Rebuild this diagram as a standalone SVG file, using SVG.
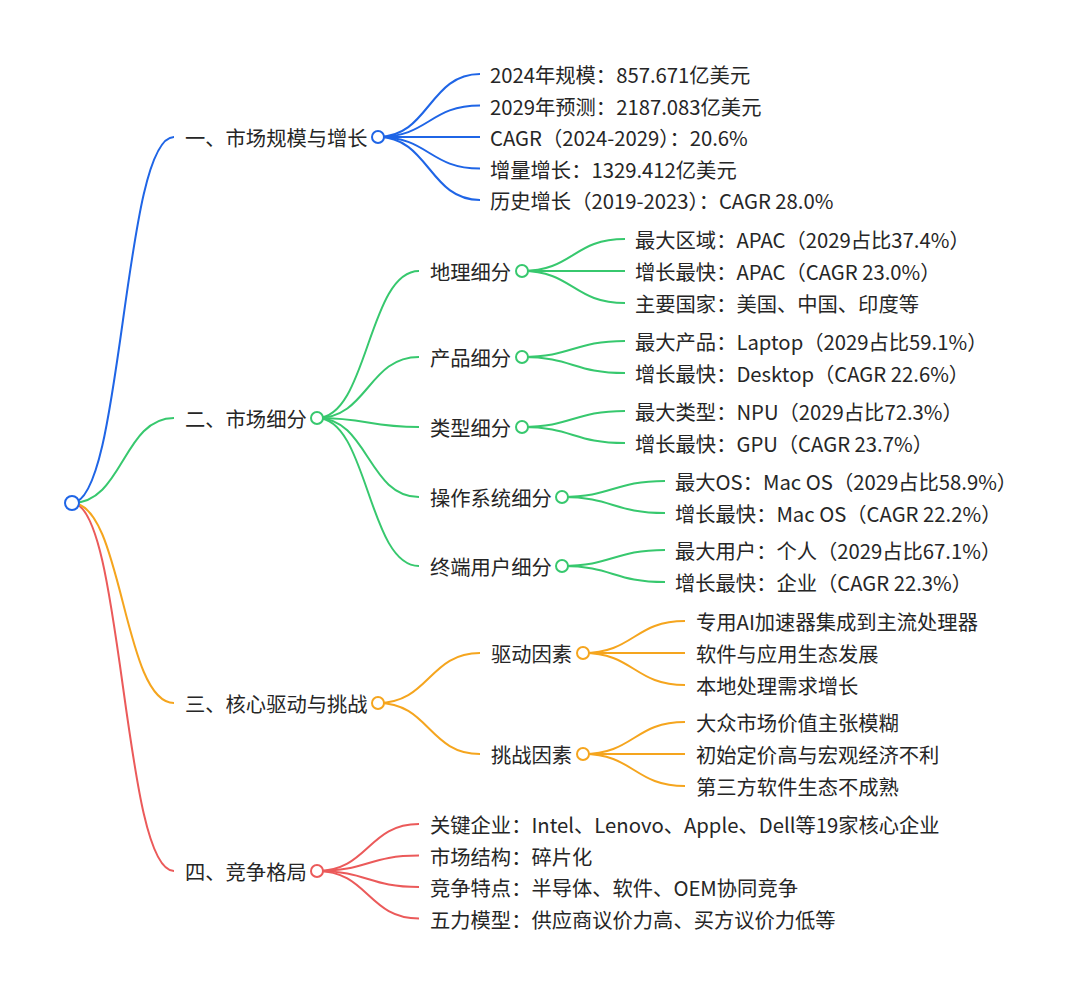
<svg xmlns="http://www.w3.org/2000/svg" width="1080" height="992" viewBox="0 0 1080 992">
<style>
text{font-family:"Noto Sans CJK SC","Noto Sans",sans-serif;font-size:20.3px;fill:#262626;dominant-baseline:central}
path{fill:none;stroke-width:2}
circle{fill:#fff;stroke-width:2}
.b{stroke:#1f65e6}.g{stroke:#37c86e}.o{stroke:#f5a51e}.r{stroke:#eb5a5a}
</style>
<rect width="1080" height="992" fill="#fff"/>
<g id="connectors">
<path class="b" d="M72,503 C123,503 123,137 174,137"/>
<path class="g" d="M72,503 C123,503 123,418 174,418"/>
<path class="r" d="M72,503 C123,503 123,871 174,871"/>
<path class="o" d="M72,503 C123,503 123,703 174,703"/>
<path class="b" d="M378,137 C429,137 429,74 480,74"/>
<path class="b" d="M378,137 C429,137 429,105.5 480,105.5"/>
<path class="b" d="M378,137 C429,137 429,137 480,137"/>
<path class="b" d="M378,137 C429,137 429,168.5 480,168.5"/>
<path class="b" d="M378,137 C429,137 429,200 480,200"/>
<path class="g" d="M317,418 C368,418 368,271 419,271"/>
<path class="g" d="M317,418 C368,418 368,357 419,357"/>
<path class="g" d="M317,418 C368,418 368,427 419,427"/>
<path class="g" d="M317,418 C368,418 368,497 419,497"/>
<path class="g" d="M317,418 C368,418 368,566 419,566"/>
<path class="g" d="M522,271 C573,271 573,239 625,239"/>
<path class="g" d="M522,271 C573,271 573,271 625,271"/>
<path class="g" d="M522,271 C573,271 573,303 625,303"/>
<path class="g" d="M522,357 C573,357 573,341 625,341"/>
<path class="g" d="M522,357 C573,357 573,373 625,373"/>
<path class="g" d="M522,427 C573,427 573,411 625,411"/>
<path class="g" d="M522,427 C573,427 573,443 625,443"/>
<path class="g" d="M562,497 C613,497 613,481 665,481"/>
<path class="g" d="M562,497 C613,497 613,513 665,513"/>
<path class="g" d="M562,566 C613,566 613,550 665,550"/>
<path class="g" d="M562,566 C613,566 613,582 665,582"/>
<path class="o" d="M378,703 C429,703 429,653 480,653"/>
<path class="o" d="M378,703 C429,703 429,754 480,754"/>
<path class="o" d="M583,653 C634,653 634,621 685,621"/>
<path class="o" d="M583,653 C634,653 634,653 685,653"/>
<path class="o" d="M583,653 C634,653 634,685 685,685"/>
<path class="o" d="M583,754 C634,754 634,722 685,722"/>
<path class="o" d="M583,754 C634,754 634,754 685,754"/>
<path class="o" d="M583,754 C634,754 634,786 685,786"/>
<path class="r" d="M317,871 C368,871 368,824 419,824"/>
<path class="r" d="M317,871 C368,871 368,855.5 419,855.5"/>
<path class="r" d="M317,871 C368,871 368,887 419,887"/>
<path class="r" d="M317,871 C368,871 368,918.5 419,918.5"/>
</g>
<g id="root"><circle class="b" cx="72" cy="503" r="7"/></g>
<g id="n1"><text x="185" y="137">一、市场规模与增长</text><circle class="b" cx="378" cy="137" r="6"/></g>
<g id="n1-1"><text x="490" y="74">2024年规模：857.671亿美元</text></g>
<g id="n1-2"><text x="490" y="105.5">2029年预测：2187.083亿美元</text></g>
<g id="n1-3"><text x="490" y="137">CAGR（2024-2029）：20.6%</text></g>
<g id="n1-4"><text x="490" y="168.5">增量增长：1329.412亿美元</text></g>
<g id="n1-5"><text x="490" y="200">历史增长（2019-2023）：CAGR 28.0%</text></g>
<g id="n2"><text x="185" y="418">二、市场细分</text><circle class="g" cx="317" cy="418" r="6"/></g>
<g id="n2-1"><text x="430" y="271">地理细分</text><circle class="g" cx="522" cy="271" r="6"/></g>
<g id="n2-1-1"><text x="635" y="239">最大区域：APAC（2029占比37.4%）</text></g>
<g id="n2-1-2"><text x="635" y="271">增长最快：APAC（CAGR 23.0%）</text></g>
<g id="n2-1-3"><text x="635" y="303">主要国家：美国、中国、印度等</text></g>
<g id="n2-2"><text x="430" y="357">产品细分</text><circle class="g" cx="522" cy="357" r="6"/></g>
<g id="n2-2-1"><text x="635" y="341">最大产品：Laptop（2029占比59.1%）</text></g>
<g id="n2-2-2"><text x="635" y="373">增长最快：Desktop（CAGR 22.6%）</text></g>
<g id="n2-3"><text x="430" y="427">类型细分</text><circle class="g" cx="522" cy="427" r="6"/></g>
<g id="n2-3-1"><text x="635" y="411">最大类型：NPU（2029占比72.3%）</text></g>
<g id="n2-3-2"><text x="635" y="443">增长最快：GPU（CAGR 23.7%）</text></g>
<g id="n2-4"><text x="430" y="497">操作系统细分</text><circle class="g" cx="562" cy="497" r="6"/></g>
<g id="n2-4-1"><text x="675" y="481">最大OS：Mac OS（2029占比58.9%）</text></g>
<g id="n2-4-2"><text x="675" y="513">增长最快：Mac OS（CAGR 22.2%）</text></g>
<g id="n2-5"><text x="430" y="566">终端用户细分</text><circle class="g" cx="562" cy="566" r="6"/></g>
<g id="n2-5-1"><text x="675" y="550">最大用户：个人（2029占比67.1%）</text></g>
<g id="n2-5-2"><text x="675" y="582">增长最快：企业（CAGR 22.3%）</text></g>
<g id="n3"><text x="185" y="703">三、核心驱动与挑战</text><circle class="o" cx="378" cy="703" r="6"/></g>
<g id="n3-1"><text x="491" y="653">驱动因素</text><circle class="o" cx="583" cy="653" r="6"/></g>
<g id="n3-1-1"><text x="696" y="621">专用AI加速器集成到主流处理器</text></g>
<g id="n3-1-2"><text x="696" y="653">软件与应用生态发展</text></g>
<g id="n3-1-3"><text x="696" y="685">本地处理需求增长</text></g>
<g id="n3-2"><text x="491" y="754">挑战因素</text><circle class="o" cx="583" cy="754" r="6"/></g>
<g id="n3-2-1"><text x="696" y="722">大众市场价值主张模糊</text></g>
<g id="n3-2-2"><text x="696" y="754">初始定价高与宏观经济不利</text></g>
<g id="n3-2-3"><text x="696" y="786">第三方软件生态不成熟</text></g>
<g id="n4"><text x="185" y="871">四、竞争格局</text><circle class="r" cx="317" cy="871" r="6"/></g>
<g id="n4-1"><text x="430" y="824">关键企业：Intel、Lenovo、Apple、Dell等19家核心企业</text></g>
<g id="n4-2"><text x="430" y="855.5">市场结构：碎片化</text></g>
<g id="n4-3"><text x="430" y="887">竞争特点：半导体、软件、OEM协同竞争</text></g>
<g id="n4-4"><text x="430" y="918.5">五力模型：供应商议价力高、买方议价力低等</text></g>
</svg>
